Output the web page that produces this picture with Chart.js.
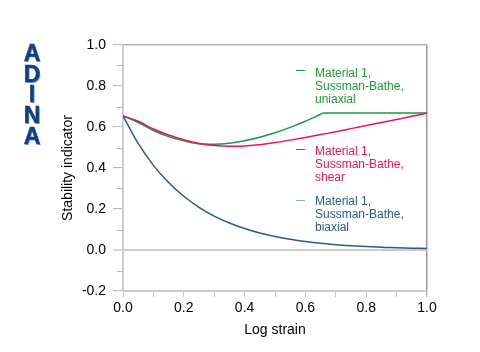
<!DOCTYPE html>
<html>
<head>
<meta charset="utf-8">
<script src="https://cdn.jsdelivr.net/npm/chart.js@4/dist/chart.umd.min.js"></script>
<style>
  html, body { margin: 0; padding: 0; background: #fff; }
  #wrap { position: relative; width: 480px; height: 352px; overflow: hidden; }
  canvas { position: absolute; left: 0; top: 0; }
  .logo { position: absolute; width: 40px; left: 12px; text-align: center;
          font: bold 23px "Liberation Sans", Arial, sans-serif; line-height: 23px;
          color: #123f83; -webkit-text-stroke: 0.5px #123f83; text-shadow: 1px 1px 0 #7fa6d8; }
  .leg { position: absolute; left: 315px; font: 12px "Liberation Sans", Arial, sans-serif;
         line-height: 13px; white-space: pre; }
  .mk { position: absolute; left: 296px; width: 9px; height: 1.5px; }
</style>
</head>
<body>
<div id="wrap">
  <canvas id="c" width="480" height="352"></canvas>
  <div class="logo" style="top:42px">A</div>
  <div class="logo" style="top:62.5px">D</div>
  <div class="logo" style="top:83px">I</div>
  <div class="logo" style="top:104px">N</div>
  <div class="logo" style="top:125px">A</div>

  <div class="mk" style="top:69.5px;background:#1e9a3c"></div>
  <div class="leg" style="top:66.5px;color:#1e9a3c">Material 1,
Sussman-Bathe,
uniaxial</div>
  <div class="mk" style="top:148.5px;background:#e0185a"></div>
  <div class="leg" style="top:145px;color:#e0185a">Material 1,
Sussman-Bathe,
shear</div>
  <div class="mk" style="top:199.5px;background:#8aa6c6"></div>
  <div class="leg" style="top:195px;color:#2a5a8c">Material 1,
Sussman-Bathe,
biaxial</div>
</div>
<script>
// ---- data ----
const strainGrid = [0,0.05,0.1,0.15,0.2,0.25,0.3,0.35,0.4,0.45,0.5,0.55,0.6,0.65,0.7,0.75,0.8,0.85,0.9,0.95,1.0];
const uniaxialStrain = [0,0.05,0.1,0.15,0.2,0.25,0.3,0.35,0.4,0.45,0.5,0.55,0.6,0.63,0.65,0.66,0.7,0.8,0.9,1.0];
const uniaxial = [0.654,0.622,0.583,0.553,0.533,0.518,0.516,0.521,0.533,0.550,0.572,0.598,0.628,0.648,0.662,0.668,0.668,0.668,0.668,0.668];
const shear = [0.654,0.628,0.590,0.561,0.538,0.520,0.510,0.506,0.507,0.514,0.524,0.536,0.549,0.563,0.577,0.592,0.607,0.622,0.637,0.652,0.668];
const biaxial = [0.654,0.520,0.413,0.329,0.262,0.208,0.165,0.132,0.105,0.083,0.066,0.053,0.042,0.033,0.026,0.021,0.017,0.013,0.011,0.009,0.007];
const yMinorTicks = [-0.1,0.1,0.3,0.5,0.7,0.9];
const xTitle = 'Log strain';
const yTitle = 'Stability indicator';

const pts = (xs, ys) => xs.map((x, i) => ({x: x, y: ys[i]}));
const fmt = v => (Math.abs(v) < 1e-9 ? 0 : v).toFixed(1);

Chart.defaults.font.family = '"Liberation Sans", Arial, sans-serif';
Chart.defaults.font.size = 14;
Chart.defaults.color = '#000';

const minorTicks = {
  id: 'minorTicks',
  afterDraw(chart) {
    const ctx = chart.ctx, y = chart.scales.y, left = chart.chartArea.left;
    ctx.save();
    ctx.strokeStyle = '#b4b4b4';
    ctx.lineWidth = 1;
    yMinorTicks.forEach(v => {
      const py = Math.round(y.getPixelForValue(v)) + 0.5;
      ctx.beginPath();
      ctx.moveTo(left - 6, py);
      ctx.lineTo(left, py);
      ctx.stroke();
    });
    ctx.restore();
  }
};

const near = (a, b) => Math.abs(a - b) < 1e-6;

new Chart(document.getElementById('c'), {
  type: 'line',
  data: {
    datasets: [
      { label: 'Material 1, Sussman-Bathe, shear', data: pts(strainGrid, shear),
        borderColor: '#e0185a', borderWidth: 1.5, pointRadius: 0, cubicInterpolationMode: 'monotone', fill: false },
      { label: 'Material 1, Sussman-Bathe, uniaxial', data: pts(uniaxialStrain, uniaxial),
        borderColor: '#1e9a3c', borderWidth: 1.5, pointRadius: 0, cubicInterpolationMode: 'monotone', fill: false },
      { label: 'Material 1, Sussman-Bathe, biaxial', data: pts(strainGrid, biaxial),
        borderColor: '#2a5a8c', borderWidth: 1.5, pointRadius: 0, cubicInterpolationMode: 'monotone', fill: false }
    ]
  },
  options: {
    responsive: false,
    animation: false,
    layout: { padding: { top: 45, right: 53, bottom: 10, left: 0 } },
    plugins: { legend: { display: false }, tooltip: { enabled: false } },
    scales: {
      x: {
        type: 'linear', min: 0, max: 1,
        afterFit(s) { s.height = 51; },
        ticks: { stepSize: 0.1, padding: 3, maxRotation: 0, autoSkip: false,
                 callback: v => (Math.round(v * 10) % 2 === 0 ? fmt(v) : '') },
        grid: {
          drawOnChartArea: true, drawTicks: true, tickLength: 6,
          color: c => (c.tick && near(c.tick.value, 1) ? '#999' : 'rgba(0,0,0,0)'),
          lineWidth: c => (c.tick && near(c.tick.value, 1) ? 1.5 : 1),
          tickColor: c => (c.tick && near(c.tick.value, 1) ? '#999' : '#c8c8c8'),
          tickWidth: 1
        },
        border: { display: true, color: '#cccccc', width: 2 },
        title: { display: true, text: xTitle, padding: { top: 0, bottom: 3.6 } }
      },
      y: {
        type: 'linear', min: -0.2, max: 1.0,
        afterFit(s) { s.width = 123; },
        ticks: { stepSize: 0.2, padding: 7, callback: v => fmt(v) },
        grid: {
          drawOnChartArea: true, drawTicks: true, tickLength: 10,
          color: c => {
            if (!c.tick) return 'rgba(0,0,0,0)';
            if (near(c.tick.value, 1)) return '#aaaaaa';
            if (near(c.tick.value, 0)) return '#cccccc';
            return 'rgba(0,0,0,0)';
          },
          lineWidth: c => (c.tick && near(c.tick.value, 0) ? 2 : 1.2),
          tickColor: '#b4b4b4',
          tickWidth: 1
        },
        border: { display: true, color: '#cccccc', width: 2 },
        title: { display: true, text: yTitle, padding: { top: 59.6, bottom: 0 } }
      }
    }
  },
  plugins: [minorTicks]
});
</script>
</body>
</html>
